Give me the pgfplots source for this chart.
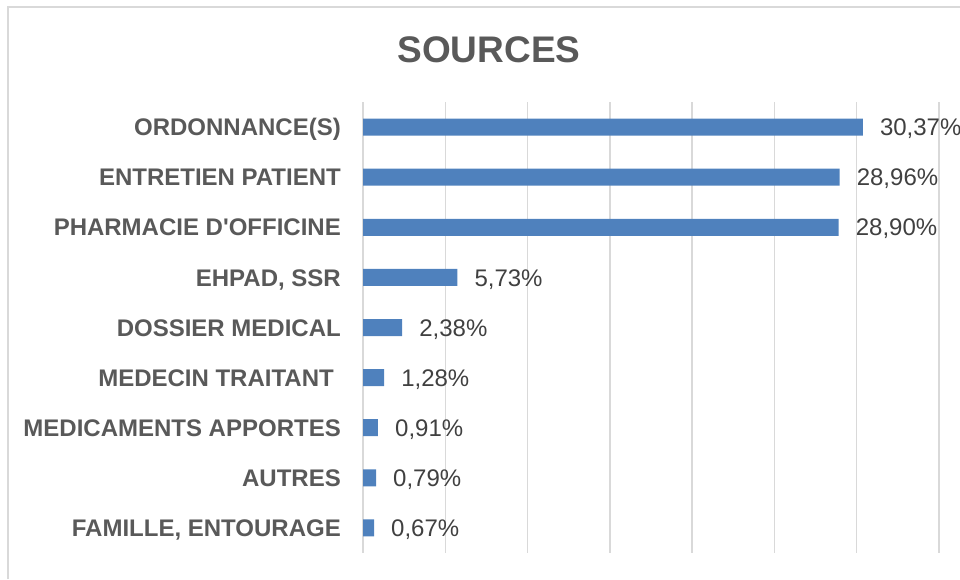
\documentclass[border=0pt]{standalone}
\usepackage{fontspec}
\setmainfont{Liberation Sans}
\usepackage{pgfplots}
\pgfplotsset{compat=1.18}

\definecolor{barblue}{HTML}{4F81BD}
\definecolor{gridgray}{HTML}{D9D9D9}
\definecolor{labelgray}{HTML}{595959}
\definecolor{valgray}{HTML}{404040}

\begin{document}
\begin{tikzpicture}
\useasboundingbox (0pt,0pt) rectangle (960pt,579pt);
% chart frame (only left and top edges fall inside the picture)
\draw[gridgray, line width=1.5pt] (8pt,0pt) -- (8pt,572pt) -- (960pt,572pt);
\node[anchor=base, font=\fontsize{37}{44}\selectfont\bfseries, text=labelgray]
  at (489pt,516pt) {SOURCES};

\begin{axis}[
    at={(363pt,26pt)},
    anchor=south west,
    scale only axis,
    width=576pt,
    height=451pt,
    xmin=0, xmax=35,
    ymin=-0.5, ymax=8.5,
    y dir=reverse,
    xtick={0,5,...,35},
    xticklabels={},
    xmajorgrids,
    grid style={gridgray, line width=1.5pt},
    axis line style={draw=none},
    major tick length=0pt,
    ytick={0,...,8},
    yticklabels={ORDONNANCE(S), ENTRETIEN PATIENT, PHARMACIE D\textquotesingle OFFICINE,
                 {EHPAD, SSR}, DOSSIER MEDICAL, MEDECIN TRAITANT\kern7pt,
                 MEDICAMENTS APPORTES, AUTRES, {FAMILLE, ENTOURAGE}},
    yticklabel style={anchor=base east, inner sep=0pt, xshift=-22pt, yshift=-8.6pt,
                      font=\fontsize{24}{28}\selectfont\bfseries, text=labelgray},
    /pgf/number format/assume math mode=true,
    point meta=x,
    nodes near coords={\pgfmathprintnumber[fixed, fixed zerofill, precision=2, use comma]{\pgfplotspointmeta}\%},
    every node near coord/.append style={anchor=base west, inner sep=0pt, xshift=17pt, yshift=-8.6pt,
                                         font=\fontsize{24}{28}\selectfont, text=valgray},
]
\addplot[xbar, bar width=17pt, fill=barblue, draw=none] coordinates {
    (30.37,0) (28.96,1) (28.90,2) (5.73,3) (2.38,4)
    (1.28,5) (0.91,6) (0.79,7) (0.67,8)
};
\end{axis}
\end{tikzpicture}
\end{document}
